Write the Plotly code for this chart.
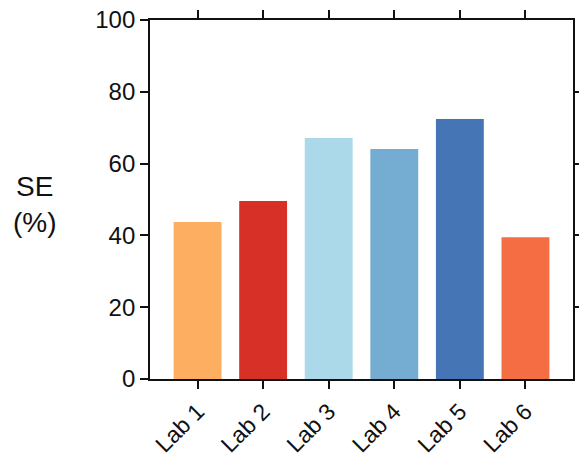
import plotly.graph_objects as go

labs = ["Lab 1", "Lab 2", "Lab 3", "Lab 4", "Lab 5", "Lab 6"]
se_values = [43.7, 49.6, 67.1, 64.1, 72.4, 39.5]
bar_colors = ["#FDAE61", "#D73027", "#ABD9E9", "#74ADD1", "#4575B4", "#F46D43"]
y_ticks = [0, 20, 40, 60, 80, 100]

font = dict(family="Liberation Sans, Arial, sans-serif", size=24, color="#111")
xfont = dict(family="Liberation Sans, Arial, sans-serif", size=23, color="#111")

fig = go.Figure()
fig.add_trace(go.Bar(x=labs, y=se_values, marker=dict(color=bar_colors, line=dict(width=0)),
                     width=0.73, showlegend=False))
fig.add_trace(go.Scatter(x=labs, y=se_values, xaxis="x2", yaxis="y2", mode="markers",
                         marker=dict(opacity=0), showlegend=False, hoverinfo="skip"))

axis_common = dict(showline=True, linecolor="#111", linewidth=1.8, ticks="outside",
                   ticklen=8, tickwidth=1.8, tickcolor="#111", showgrid=False,
                   zeroline=False, automargin=False)

W, H = 579, 458
L, R, T, B = 150, 6, 20, 79
pw = W - L - R
ph = H - T - B

fig.update_layout(
    width=W, height=H,
    margin=dict(l=L, r=R, t=T, b=B, autoexpand=False),
    plot_bgcolor="white", paper_bgcolor="white",
    font=font,
    xaxis=dict(**axis_common, range=[-0.725, 5.725], tickangle=-45, tickfont=xfont,
               ticklabeloverflow="allow"),
    yaxis=dict(**axis_common, range=[0, 100], tickvals=y_ticks, tickfont=font,
               ticklabeloverflow="allow"),
    xaxis2=dict(**axis_common, overlaying="x", side="top", range=[-0.725, 5.725],
                showticklabels=False),
    yaxis2=dict(**axis_common, overlaying="y", side="right", range=[0, 100],
                tickvals=[20, 40, 60, 80], showticklabels=False),
    annotations=[dict(text="SE<br>(%)", x=(35 - L) / pw, y=(H - B - 204) / ph,
                      xref="paper", yref="paper", showarrow=False,
                      xanchor="center", yanchor="middle",
                      font=dict(family="Liberation Sans, Arial, sans-serif", size=28, color="#111"))],
)
fig.write_html("out.html", config={"displayModeBar": False},
               post_script="document.body.style.margin='0';document.body.style.overflow='hidden';")
